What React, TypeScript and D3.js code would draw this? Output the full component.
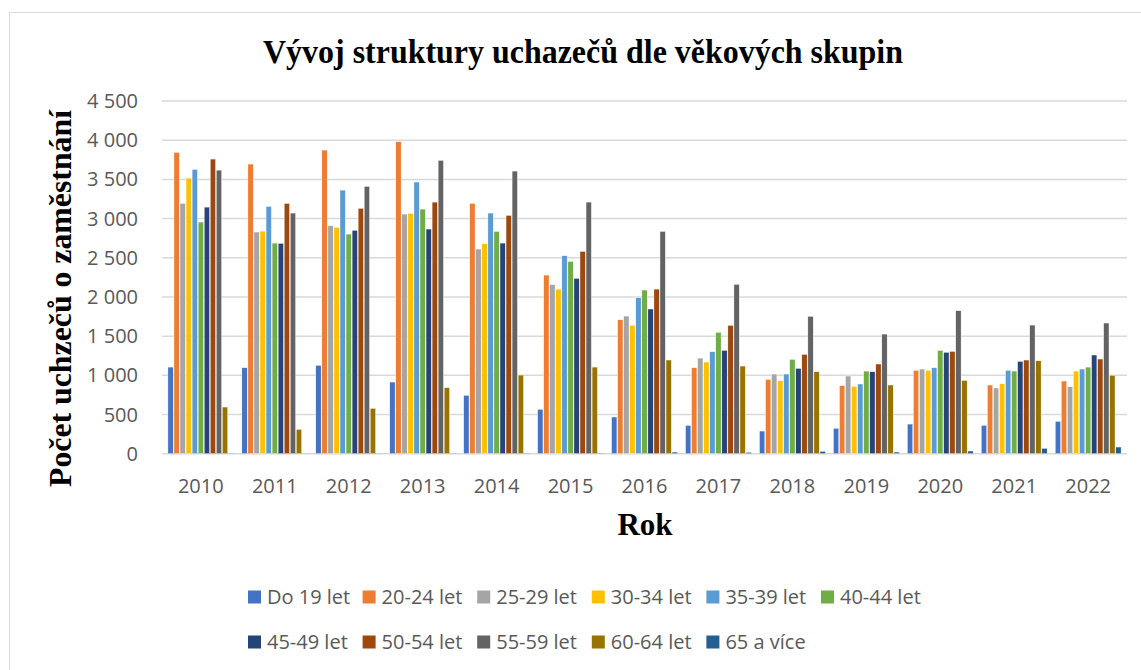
import * as d3 from "d3";

const years = ["2010", "2011", "2012", "2013", "2014", "2015", "2016", "2017", "2018", "2019", "2020", "2021", "2022"];
const groups = ["Do 19 let", "20-24 let", "25-29 let", "30-34 let", "35-39 let", "40-44 let", "45-49 let", "50-54 let", "55-59 let", "60-64 let", "65 a více"];
const colors = ["#4472C4", "#ED7D31", "#A5A5A5", "#FFC000", "#5B9BD5", "#70AD47", "#264478", "#9E480E", "#636363", "#997300", "#255E91"];

// hodnoty po skupinách, jedna položka na rok
const do19 = [1105, 1097, 1127, 914, 744, 566, 468, 361, 289, 323, 378, 361, 412];
const v20_24 = [3843, 3695, 3874, 3980, 3193, 2279, 1709, 1097, 948, 867, 1063, 876, 927];
const v25_29 = [3193, 2828, 2908, 3057, 2611, 2156, 1756, 1220, 1016, 991, 1080, 838, 855];
const v30_34 = [3516, 2840, 2887, 3066, 2679, 2100, 1637, 1169, 931, 859, 1063, 893, 1054];
const v35_39 = [3627, 3155, 3363, 3466, 3070, 2526, 1990, 1301, 1016, 889, 1097, 1063, 1080];
const v40_44 = [2955, 2687, 2802, 3121, 2836, 2453, 2088, 1548, 1203, 1054, 1318, 1054, 1105];
const v45_49 = [3146, 2683, 2849, 2866, 2687, 2237, 1846, 1318, 1088, 1046, 1293, 1178, 1259];
const v50_54 = [3759, 3193, 3130, 3210, 3040, 2581, 2100, 1637, 1267, 1144, 1305, 1195, 1208];
const v55_59 = [3618, 3070, 3410, 3742, 3606, 3210, 2836, 2160, 1752, 1526, 1824, 1641, 1667];
const v60_64 = [595, 310, 578, 842, 1003, 1105, 1195, 1118, 1046, 876, 935, 1186, 999];
const v65 = [4, 3, 4, 5, 5, 6, 21, 18, 30, 21, 34, 68, 85];
const series = [do19, v20_24, v25_29, v30_34, v35_39, v40_44, v45_49, v50_54, v55_59, v60_64, v65];

const yTicks = [0, 500, 1000, 1500, 2000, 2500, 3000, 3500, 4000, 4500];

const W = 1141;
const H = 670;
const plot = { left: 162, right: 1127, top: 101, bottom: 453.7 };
const sans = "'Open Sans', 'Noto Sans', sans-serif";
const serif = "'Liberation Serif', 'Times New Roman', serif";

export default function App() {
  const x0 = d3.scaleBand().domain(years).range([plot.left, plot.right]).paddingInner(0.11).paddingOuter(0.08);
  const x1 = d3.scaleBand().domain(groups).range([0, x0.bandwidth()]).paddingInner(0.12);
  const y = d3.scaleLinear().domain([0, 4500]).range([plot.bottom, plot.top]);
  const fmt = (v) => d3.format(",")(v).replace(/,/g, " ");

  return (
    <svg width={W} height={H} style={{ position: "absolute", left: 0, top: 0 }}>
      <rect x={0} y={0} width={W} height={H} fill="white" />
      <rect x={9.5} y={12.5} width={W + 10} height={H + 10} fill="none" stroke="#D9D9D9" strokeWidth={1} />

      <text x={583} y={63} textAnchor="middle" fontFamily={serif} fontWeight="bold" fontSize={34} textLength={640} lengthAdjust="spacingAndGlyphs">
        Vývoj struktury uchazečů dle věkových skupin
      </text>

      {/* mřížka */}
      {yTicks.map((t) => (
        <g key={t}>
          <line x1={plot.left} x2={plot.right} y1={y(t)} y2={y(t)} stroke="#D9D9D9" strokeWidth={1.5} />
          <text x={138} y={y(t)} dy="0.35em" textAnchor="end" fontFamily={sans} fontSize={20} fill="#595959">
            {fmt(t)}
          </text>
        </g>
      ))}

      {years.map((yr, i) => (
        <g key={yr} transform={`translate(${x0(yr)},0)`}>
          {series.map((s, j) => (
            <rect
              key={j}
              x={x1(groups[j])}
              y={y(s[i])}
              width={x1.bandwidth()}
              height={plot.bottom - y(s[i])}
              fill={colors[j]}
              stroke="white"
              strokeWidth={0.4}
            />
          ))}
          <text x={x0.bandwidth() / 2} y={493} textAnchor="middle" fontFamily={sans} fontSize={20} fill="#595959">
            {yr}
          </text>
        </g>
      ))}

      <text x={645} y={535} textAnchor="middle" fontFamily={serif} fontWeight="bold" fontSize={31}>
        Rok
      </text>
      <text
        transform={`translate(71,${298.5}) rotate(-90)`}
        textAnchor="middle"
        fontFamily={serif}
        fontWeight="bold"
        fontSize={32}
        textLength={377}
        lengthAdjust="spacingAndGlyphs"
      >
        Počet uchzečů o zaměstnání
      </text>

      {/* legenda */}
      {groups.map((g, j) => {
        const row = j < 6 ? 0 : 1;
        const col = row ? j - 6 : j;
        const lx = 248 + col * 114.6;
        const ly = row ? 642 : 597;
        return (
          <g key={g} transform={`translate(${lx},${ly})`}>
            <rect x={0} y={-6.5} width={13} height={13} fill={colors[j]} />
            <text x={19} y={0} dy="0.35em" fontFamily={sans} fontSize={20} fill="#595959">
              {g}
            </text>
          </g>
        );
      })}
    </svg>
  );
}
